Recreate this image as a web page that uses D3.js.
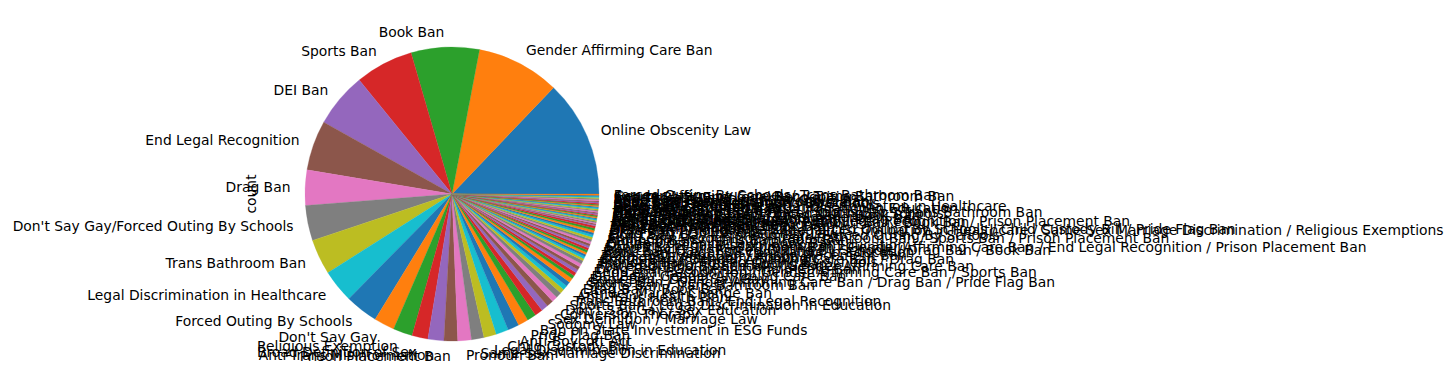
<!DOCTYPE html>
<html>
<head>
<meta charset="utf-8">
<script src="https://cdn.jsdelivr.net/npm/d3@7"></script>
<style>
  html, body { margin: 0; padding: 0; background: #ffffff; }
  svg { display: block; }
  text { font-family: "DejaVu Sans", sans-serif; font-size: 13.89px; fill: #000; }
</style>
</head>
<body>
<div id="chart"></div>
<script>
// ---- data (counts per category, in value_counts order) ----
const categories = [
  "Online Obscenity Law",
  "Gender Affirming Care Ban",
  "Book Ban",
  "Sports Ban",
  "DEI Ban",
  "End Legal Recognition",
  "Drag Ban",
  "Don't Say Gay/Forced Outing By Schools",
  "Trans Bathroom Ban",
  "Legal Discrimination in Healthcare",
  "Forced Outing By Schools",
  "Don't Say Gay",
  "Religious Exemption",
  "Broad Definition of Sex",
  "Anti-Trans Misinformation",
  "Prison Placement Ban",
  "Pronoun Ban",
  "Same-Sex Marriage Discrimination",
  "Legal Discrimination in Education",
  "Child Custody Bill",
  "Anti-Boycott Act",
  "Pride Flag Ban",
  "Ban on State Investment in ESG Funds",
  "Sodomy Law",
  "Sex Definition / Marriage Law",
  "Conversion Therapy",
  "Don't Say Gay / Sex Education",
  "Sports Ban / Legal Discrimination in Education",
  "Trans Bathroom Ban / End Legal Recognition",
  "Anti-Trans Health Plan",
  "Gender Marker Change Ban",
  "Drag Ban / Book Ban",
  "Sports Ban / Trans Bathroom Ban",
  "Sports Ban / Gender Affirming Care Ban / Drag Ban / Pride Flag Ban",
  "Book Ban / Don't Say Gay",
  "DEI Ban / Gender Affirming Care Ban",
  "End Legal Recognition / Gender Affirming Care Ban / Sports Ban",
  "Drag Ban / Gender Affirming Care Ban",
  "Forced Outing By Schools / Gender Affirming Care Ban",
  "Trans Bathroom Ban / Sports Ban",
  "Pronoun Ban / Forced Outing By Schools",
  "Sports Ban / Gender Affirming Care Ban / Drag Ban",
  "Religious Exemption / Adoption",
  "Trans Bathroom Ban / Prison Placement Ban",
  "Book Ban / Legal Discrimination in Education",
  "Don't Say Gay / Forced Outing By Schools / Drag Ban / Book Ban",
  "Sports Ban / Trans Bathroom Ban / Gender Affirming Care Ban / End Legal Recognition / Prison Placement Ban",
  "DEI Ban / Legal Discrimination in Education",
  "Online Obscenity Law / Book Ban",
  "Pronoun Ban / Trans Bathroom Ban",
  "End Legal Recognition / Trans Bathroom Ban / Sports Ban / Prison Placement Ban",
  "Don't Say Gay / Pronoun Ban / Forced Outing By Schools",
  "Drag Ban / Online Obscenity Law",
  "Drag Ban / Pronoun Ban / Legal Discrimination in Healthcare / Same-Sex Marriage Discrimination / Religious Exemptions",
  "Gender Affirming Care Ban / Forced Outing By Schools / Child Custody Bill / Pride Flag Ban",
  "Sports Ban / DEI Ban",
  "Trans Bathroom Ban / Book Ban",
  "Sex Education Restriction",
  "Drag Ban / End Legal Recognition",
  "Forced Outing By Schools / Pronoun Ban / Book Ban",
  "Gender Affirming Care Ban / End Legal Recognition / Prison Placement Ban",
  "Anti-LGBTQ Adoption Law",
  "Sports Ban / Trans Bathroom Ban / Drag Ban",
  "Legal Discrimination in Employment",
  "Name Change Ban",
  "Online Obscenity Law / Drag Ban / Book Ban",
  "Trans Bathroom Ban / Forced Outing By Schools",
  "Gender Affirming Care Ban / Sports Ban / Trans Bathroom Ban",
  "Medicaid Ban",
  "DEI Ban / Don't Say Gay",
  "Don't Say Gay / Legal Discrimination in Education",
  "Book Ban / Pronoun Ban",
  "Religious Exemption / Legal Discrimination in Healthcare",
  "Drag Ban / Pride Flag Ban",
  "Sports Ban / Forced Outing By Schools",
  "Book Ban / Sex Education / Obscenity",
  "End Legal Recognition / Pronoun Ban",
  "Pride Flag Ban / Don't Say Gay",
  "Anti-Protest Law",
  "Sports Ban / End Legal Recognition",
  "Gender Affirming Care Ban / Trans Bathroom Ban",
  "Forced Outing By Schools/ Trans Bathroom Ban"
];
const counts = [
  103, 73, 60, 51, 48, 44, 31, 31, 31, 29, 29,
  18, 17, 14, 14, 12, 12, 11, 11, 11, 10, 9, 8,
  7, 6, 6, 5, 5, 4, 4, 4, 4,
  3, 3, 3, 3, 3, 3,
  2, 2, 2, 2, 2, 2, 2, 2, 2, 2, 2, 2, 2, 2, 2, 2,
  1, 1, 1, 1, 1, 1, 1, 1, 1, 1, 1, 1, 1, 1, 1, 1, 1, 1, 1, 1, 1, 1, 1, 1, 1, 1, 1, 1
];
const yLabel = "count";
const palette = ["#1f77b4","#ff7f0e","#2ca02c","#d62728","#9467bd","#8c564b","#e377c2","#7f7f7f","#bcbd22","#17becf"];

// ---- layout ----
const W = 1451, H = 389;
const cx = 452, cy = 194, R = 147;

const data = categories.map((c, i) => ({ category: c, count: counts[i] }));

const svg = d3.select("#chart").append("svg")
  .attr("width", W).attr("height", H);
svg.append("rect").attr("width", W).attr("height", H).attr("fill", "#fff");

// matplotlib: start at 3 o'clock, counterclockwise
const pie = d3.pie().value(d => d.count).sort(null)
  .startAngle(Math.PI / 2).endAngle(Math.PI / 2 - 2 * Math.PI);
const arcs = pie(data);
const color = d3.scaleOrdinal().domain(categories).range(palette);
const arc = d3.arc().innerRadius(0).outerRadius(R);

const g = svg.append("g").attr("transform", `translate(${cx},${cy})`);
g.selectAll("path").data(arcs).join("path")
  .attr("d", arc)
  .attr("fill", d => color(d.data.category))
  .attr("stroke", d => color(d.data.category))
  .attr("stroke-width", 0.3);

const labelR = 1.1 * R;
g.selectAll("text.lbl").data(arcs).join("text")
  .attr("class", "lbl")
  .each(function(d) {
    const a = (d.startAngle + d.endAngle) / 2;
    const x = labelR * Math.sin(a), y = -labelR * Math.cos(a);
    d3.select(this)
      .attr("x", x).attr("y", y)
      .attr("dy", "0.35em")
      .attr("text-anchor", x > 0 ? "start" : "end");
  })
  .text(d => d.data.category);

svg.append("text")
  .attr("transform", `translate(256,${cy}) rotate(-90)`)
  .attr("text-anchor", "middle")
  .text(yLabel);
</script>
</body>
</html>
